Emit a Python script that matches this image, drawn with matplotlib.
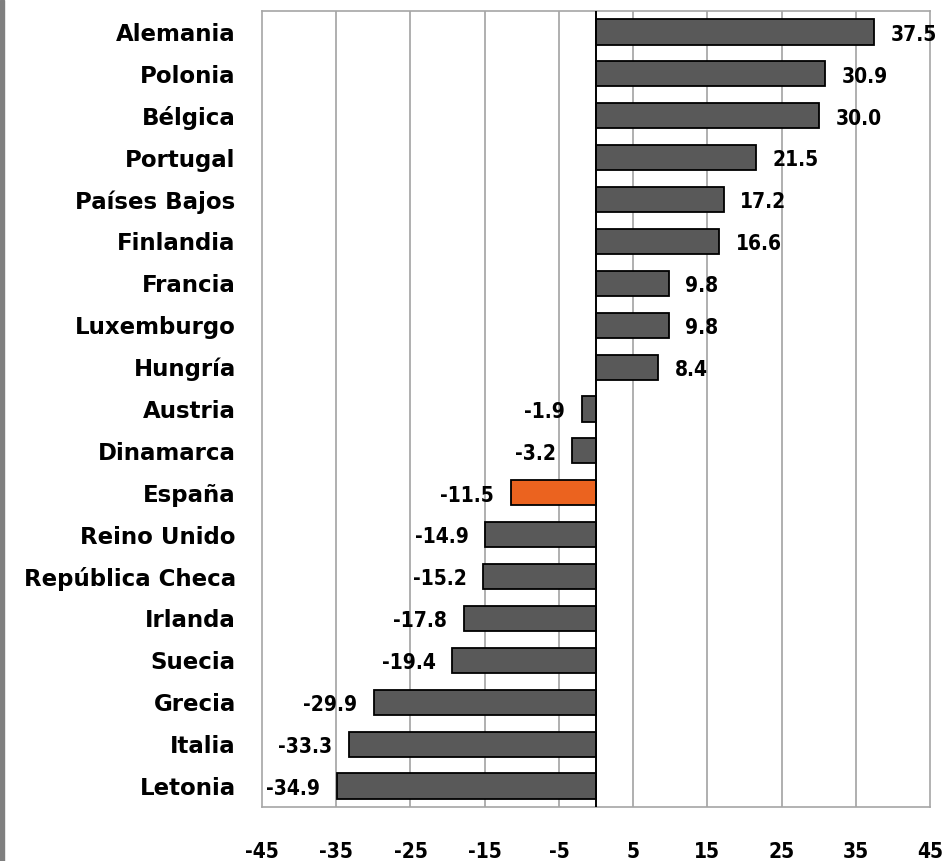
import matplotlib
matplotlib.use('Agg')
import matplotlib.pyplot as plt
from matplotlib.patches import Rectangle

# --- data ---
countries = ['Alemania', 'Polonia', 'Bélgica', 'Portugal', 'Países Bajos', 'Finlandia',
             'Francia', 'Luxemburgo', 'Hungría', 'Austria', 'Dinamarca', 'España',
             'Reino Unido', 'República Checa', 'Irlanda', 'Suecia', 'Grecia', 'Italia', 'Letonia']
values = [37.5, 30.9, 30.0, 21.5, 17.2, 16.6, 9.8, 9.8, 8.4, -1.9, -3.2, -11.5,
          -14.9, -15.2, -17.8, -19.4, -29.9, -33.3, -34.9]
highlight = 'España'
xticks = [-45, -35, -25, -15, -5, 5, 15, 25, 35, 45]

bar_grey = '#595959'
bar_orange = '#EB631F'

num_font = dict(family='DejaVu Sans', stretch='condensed', fontweight='bold', fontsize=15)

fig = plt.figure(figsize=(9.47, 8.61), dpi=100)
ax = fig.add_axes([0.2767, 0.0627, 0.7054, 0.9245])

# thin grey strip on the left edge of the picture
fig.patches.append(Rectangle((0, 0), 0.0045, 1, transform=fig.transFigure,
                             color='#7f7f7f', zorder=0))

y = list(range(len(countries)))[::-1]
colors = [bar_orange if c == highlight else bar_grey for c in countries]
ax.barh(y, values, height=0.6, color=colors, edgecolor='black', linewidth=1.3, zorder=3)

ax.set_xlim(-45, 45)
ax.set_ylim(-0.5, len(countries) - 0.5)

for gx in xticks[1:-1]:
    ax.axvline(gx, color='#9a9a9a', linewidth=1.1, zorder=1)
ax.axvline(0, color='black', linewidth=1.4, zorder=4)

for yi, v in zip(y, values):
    ha = 'left' if v > 0 else 'right'
    off = 12 if v > 0 else -12
    ax.annotate(f'{v:.1f}', xy=(v, yi), xytext=(off, -2), textcoords='offset points',
                ha=ha, va='center', color='black', zorder=5, **num_font)

ax.set_yticks(y)
ax.set_yticklabels(countries, fontsize=16.5, fontweight='bold', family='DejaVu Sans')
ax.set_xticks(xticks)
ax.set_xticklabels([str(t) for t in xticks], **num_font)
ax.tick_params(axis='y', length=0, pad=19)
ax.tick_params(axis='x', length=0, pad=25)

for s in ax.spines.values():
    s.set_color('#a6a6a6')
    s.set_linewidth(1.2)

fig.savefig('out.png', dpi=100)
